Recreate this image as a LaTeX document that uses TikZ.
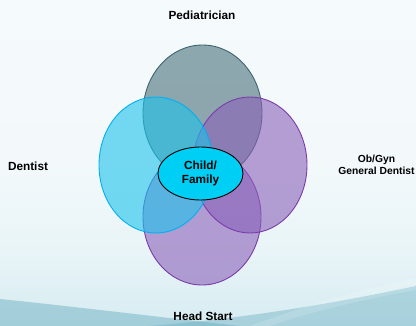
\documentclass[tikz,border=0pt]{standalone}
\usepackage{fontspec}
\usetikzlibrary{shapes.geometric}
\setmainfont{Liberation Sans}
\definecolor{bgtop}{HTML}{F7FBFD}
\definecolor{bgA}{HTML}{F3F9FB}
\definecolor{bgB}{HTML}{E8F4F7}
\definecolor{bgC}{HTML}{D3EAF0}
\definecolor{bgD}{HTML}{B8DCE4}
\definecolor{bgbot}{HTML}{A3D0DB}
\definecolor{waveA}{HTML}{6FB2C4}
\definecolor{waveB}{HTML}{6FB2C4}
\definecolor{topfill}{HTML}{49707A}
\definecolor{topline}{HTML}{3F6470}
\definecolor{leftfill}{HTML}{1CC3EB}
\definecolor{leftline}{HTML}{00B0F0}
\definecolor{purfill}{HTML}{8A61B9}
\definecolor{purline}{HTML}{7A3CAC}
\definecolor{centerfill}{HTML}{00CFF5}
\pgfdeclareverticalshading{bgshade}{100bp}{color(0bp)=(bgbot); color(11bp)=(bgD); color(23bp)=(bgC); color(36bp)=(bgB); color(50bp)=(bgA); color(100bp)=(bgtop)}
\tikzset{
  venn/.style={fill opacity=0.6, line width=0.9pt},
  lbl/.style={font=\bfseries\fontsize{11.8}{14}\selectfont, text=black, align=center, inner sep=0pt},
  lblsmall/.style={font=\bfseries\fontsize{10.3}{12}\selectfont, text=black, align=center, inner sep=0pt},
}
\begin{document}
\begin{tikzpicture}[x=1pt,y=-1pt]
\useasboundingbox (0,0) rectangle (416,326);
% background
\shade[shading=bgshade] (0,0) rectangle (416,326);
\fill[waveB, opacity=0.45] (150,326) .. controls (250,318) and (340,302) .. (416,286) -- (416,326) -- cycle;
\fill[waveA, opacity=0.5] (0,299) .. controls (60,305) and (150,316) .. (240,326) -- (0,326) -- cycle;
\fill[white, opacity=0.15] (250,326) .. controls (320,300) and (370,288) .. (416,278) -- (416,290) .. controls (360,300) and (310,312) .. (270,326) -- cycle;
% circles
\draw[venn, fill=topfill, draw=topline] (202.5,113) ellipse [x radius=59.5, y radius=68];
\draw[venn, fill=purfill, draw=purline] (202,217) ellipse [x radius=59, y radius=68];
\draw[venn, fill=purfill, draw=purline] (250,165) ellipse [x radius=57, y radius=68];
\draw[venn, fill=leftfill, draw=leftline] (156,165) ellipse [x radius=57, y radius=68];
% center
\node[draw=black, line width=0.9pt, fill=centerfill, ellipse, minimum width=85pt, minimum height=53pt, inner sep=0pt, lbl] (center) at (200.5,173.5) {Child/\\Family};
% labels
\node[lbl] (ped) at (202,15) {Pediatrician};
\node[lbl] (den) at (28,166) {Dentist};
\node[lblsmall] (ob) at (376.5,165) {Ob/Gyn\\General Dentist};
\node[lbl] (hs) at (203,316) {Head Start};
\end{tikzpicture}
\end{document}
